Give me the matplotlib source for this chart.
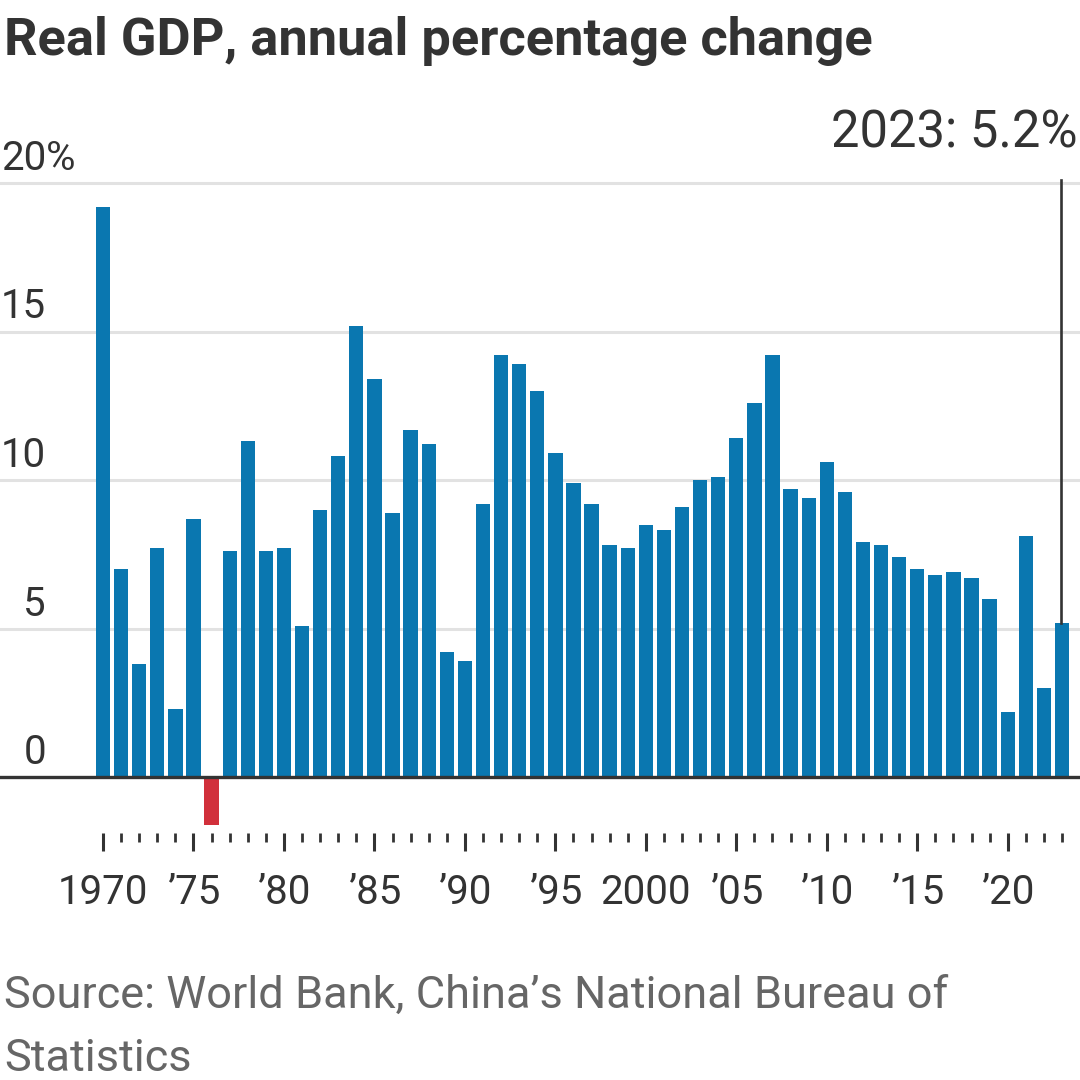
import matplotlib
matplotlib.use("Agg")
import matplotlib.pyplot as plt
import matplotlib.transforms as mtransforms
import numpy as np

years = list(range(1970, 2024))
growth = [
    19.2, 7.0, 3.8, 7.7, 2.3, 8.7, -1.6, 7.6, 11.3, 7.6,
    7.7, 5.1, 9.0, 10.8, 15.2, 13.4, 8.9, 11.7, 11.2, 4.2,
    3.9, 9.2, 14.2, 13.9, 13.0, 10.9, 9.9, 9.2, 7.8, 7.7,
    8.5, 8.3, 9.1, 10.0, 10.1, 11.4, 12.6, 14.2, 9.7, 9.4,
    10.6, 9.6, 7.9, 7.8, 7.4, 7.0, 6.8, 6.9, 6.7, 6.0,
    2.2, 8.1, 3.0, 5.2,
]
major_years = [1970, 1975, 1980, 1985, 1990, 1995, 2000, 2005, 2010, 2015, 2020]
major_labels = ["1970", "\u201975", "\u201980", "\u201985", "\u201990", "\u201995",
                "2000", "\u201905", "\u201910", "\u201915", "\u201920"]
grid_values = [5, 10, 15, 20]
ylabel_values = [0, 5, 10, 15, 20]
highlight_year = 2023
highlight_value = 5.2

BLUE = "#0a77b0"
RED = "#d1303b"
DARK = "#333333"
GRID = "#e2e2e2"
GREY = "#666666"
FONT = "Roboto"

W = H = 1080
fig = plt.figure(figsize=(W / 100, H / 100), dpi=100)

# axes: full width, bottom at the tick line (833px), top at 180px
ax_bottom = 1 - 833 / H
ax_top = 1 - 180 / H
ax = fig.add_axes([0, ax_bottom, 1, ax_top - ax_bottom])
px_per_unit = 29.7
ax.set_ylim(-(833 - 777) / px_per_unit, (777 - 180) / px_per_unit)
px_per_year = (1062 - 103) / 53
ax.set_xlim(1970 - 103 / px_per_year, 2023 + (1080 - 1062) / px_per_year)

colors = [RED if v < 0 else BLUE for v in growth]
ax.bar(years, growth, width=0.79, color=colors, zorder=3)

for v in grid_values:
    ax.axhline(v, color=GRID, lw=2.2, zorder=1)
ax.axhline(0, color=DARK, lw=2.4, zorder=4)

for s in ax.spines.values():
    s.set_visible(False)
ax.set_yticks([])

ax.set_xticks(major_years)
ax.set_xticklabels(major_labels, fontsize=29, family=FONT, color=DARK)
ax.set_xticks(years, minor=True)
ax.tick_params(axis="x", which="major", direction="out", length=13, width=2.2,
               color=DARK, pad=16)
ax.tick_params(axis="x", which="minor", direction="out", length=6.5, width=2.0,
               color=DARK)

# y labels right aligned near the left edge, sitting above gridlines
trans = mtransforms.blended_transform_factory(fig.transFigure, ax.transData)
lift = mtransforms.ScaledTranslation(0, 13 / 100, fig.dpi_scale_trans)
for v in ylabel_values:
    ax.text(46 / W, v, str(v), transform=trans + lift, ha="right", va="baseline",
            fontsize=29, family=FONT, color=DARK)
    if v == 20:
        ax.text(46 / W, v, "%", transform=trans + lift, ha="left", va="baseline",
                fontsize=29, family=FONT, color=DARK)

# annotation for latest value
ax.plot([highlight_year - 0.05, highlight_year - 0.05], [highlight_value, ax.get_ylim()[1]],
        color=DARK, lw=1.9, zorder=5, clip_on=False)
fig.text(1078 / W, 1 - 147 / H, f"{highlight_year}: {highlight_value}%", ha="right",
         va="baseline", fontsize=36.5, family=FONT, color=DARK)

fig.text(4 / W, 1 - 55 / H, "Real GDP, annual percentage change", ha="left",
         va="baseline", fontsize=37.7, family=FONT, fontweight="bold", color=DARK)

fig.text(4 / W, 1 - 1008 / H, "Source: World Bank, China\u2019s National Bureau of",
         ha="left", va="baseline", fontsize=32.5, family=FONT, color=GREY)
fig.text(4 / W, 1 - 1071 / H, "Statistics",
         ha="left", va="baseline", fontsize=32.5, family=FONT, color=GREY)

fig.savefig("out.png", dpi=100, facecolor="white")
